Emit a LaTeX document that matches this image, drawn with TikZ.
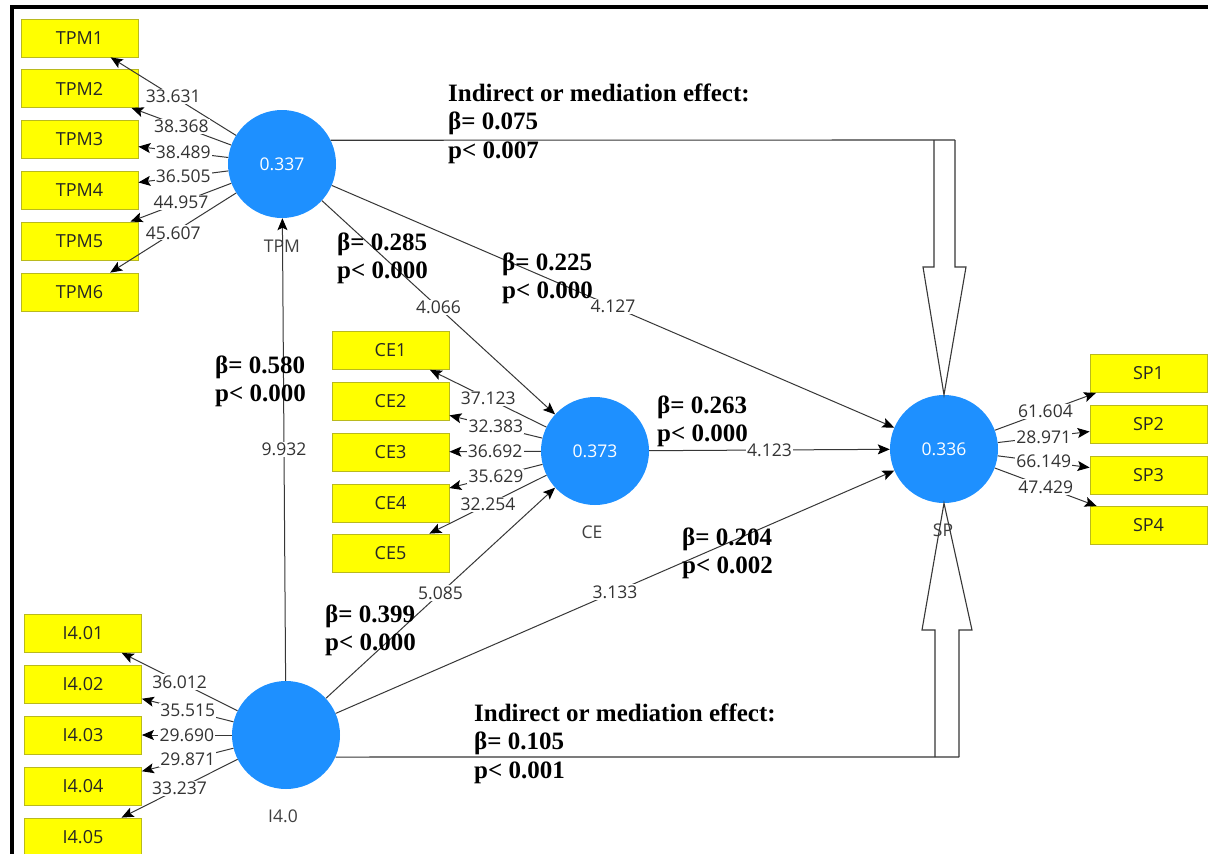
\documentclass[tikz,border=0pt]{standalone}
\usepackage{fontspec}
\setmainfont{Open Sans}
\newfontfamily\tnr{Liberation Serif}
\usetikzlibrary{arrows.meta}
\definecolor{lvblue}{HTML}{1E90FF}
\definecolor{indfill}{RGB}{255,255,0}
\definecolor{indline}{RGB}{185,185,30}
\definecolor{lncol}{RGB}{55,55,55}
\newcommand\plsblock[1]{\begin{tabular}[t]{@{}l@{}}#1\end{tabular}}
\begin{document}
\begin{tikzpicture}[x=1pt,y=-1pt,
  lat/.style={circle,fill=lvblue,minimum size=108pt,inner sep=0pt,text=white,font=\fontsize{17.5}{20}\selectfont},
  latname/.style={text=black!75,font=\fontsize{17.5}{20}\selectfont,inner sep=0pt},
  indbox/.style={rectangle,fill=indfill,draw=indline,line width=0.8pt,minimum width=117pt,minimum height=38pt,inner sep=0pt,text=black!85,font=\fontsize{18}{20}\selectfont},
  conn/.style={draw=lncol,line width=1pt,-{Stealth[length=12pt,width=10pt,inset=2.5pt,color=black]}},
  wt/.style={fill=white,inner sep=1.2pt,text=black!80,font=\fontsize{17.5}{20}\selectfont},
  hol/.style={draw=lncol,line width=1.1pt,line join=miter},
  bl/.style={font=\tnr\bfseries\fontsize{25}{28.5}\selectfont,anchor=base west,inner sep=0pt,text=black}
]
\useasboundingbox (0,0) rectangle (1208,854);
\fill[white] (0,0) rectangle (1208,854);
\draw[line width=3.5pt] (12,854) -- (12,7) -- (1208,7);

% latent variables
\node[lat] (tpm) at (282,164) {0.337};
\node[lat] (ce)  at (595,451) {0.373};
\node[lat] (sp)  at (944,449) {0.336};
\node[lat] (i40) at (286,735) {};
\node[latname] (tpmn) at (282,246) {TPM};
\node[latname] (cen)  at (592,532) {CE};
\node[latname] (spn)  at (943,530) {SP};
\node[latname] (i40n) at (283,816) {I4.0};

% indicators
\foreach \i/\y in {1/38,2/88.5,3/139.5,4/190,5/241,6/292}
  \node[indbox] (tpm\i) at (79.5,\y) {TPM\i};
\foreach \i/\y in {1/350.5,2/401,3/452,4/503,5/553}
  \node[indbox] (ce\i) at (390.5,\y) {CE\i};
\foreach \i/\y in {1/373.5,2/424.5,3/475,4/525.5}
  \node[indbox] (sp\i) at (1148.5,\y) {SP\i};
\foreach \i/\y in {1/633.5,2/684,3/735,4/786,5/837}
  \node[indbox] (i4\i) at (83,\y) {I4.0\i};

% outer loadings
\foreach \i/\v in {1/33.631,2/38.368,3/38.489,4/36.505,5/44.957,6/45.607}
  \draw[conn] (tpm) -- node[wt]{\v} (tpm\i);
\foreach \i/\v in {1/37.123,2/32.383,3/36.692,4/35.629,5/32.254}
  \draw[conn] (ce) -- node[wt]{\v} (ce\i);
\foreach \i/\v in {1/61.604,2/28.971,3/66.149,4/47.429}
  \draw[conn] (sp) -- node[wt]{\v} (sp\i);
\foreach \i/\v in {1/36.012,2/35.515,3/29.690,4/29.871,5/33.237}
  \draw[conn] (i40) -- node[wt]{\v} (i4\i);

% structural paths
\draw[conn] (i40) -- node[wt]{9.932} (tpm);
\draw[conn] (tpm) -- node[wt]{4.066} (ce);
\draw[conn] (tpm) -- node[wt]{4.127} (sp);
\draw[conn] (ce) -- node[wt]{4.123} (sp);
\draw[conn] (i40) -- node[wt]{5.085} (ce);
\draw[conn] (i40) -- node[wt]{3.133} (sp);

% mediation (hollow) arrows
\coordinate (ttr) at (955,140);
\coordinate (ttl) at (934,140);
\coordinate (bbr) at (959,757);
\coordinate (bbl) at (935,757);
\draw[hol] (tpm.26) -- (ttr);
\draw[hol] (ttl) -- (934,267) -- (923,267) -- (sp.north) -- (966,267) -- (955,267) -- (ttr);
\draw[hol] (i40.-24) -- (bbr);
\draw[hol] (bbl) -- (935,630) -- (922,630) -- (sp.south) -- (972,630) -- (959,630) -- (bbr);

% coefficient labels
\node[bl] (ind1) at (448,101) {\plsblock{Indirect or mediation effect:\\β= 0.075\\p< 0.007}};
\node[bl] (b285) at (337,250) {\plsblock{β= 0.285\\p< 0.000}};
\node[bl] (b225) at (502,270) {\plsblock{β= 0.225\\p< 0.000}};
\node[bl] (b580) at (215,373) {\plsblock{β= 0.580\\p< 0.000}};
\node[bl] (b263) at (657,413) {\plsblock{β= 0.263\\p< 0.000}};
\node[bl] (b204) at (682,545) {\plsblock{β= 0.204\\p< 0.002}};
\node[bl] (b399) at (325,622) {\plsblock{β= 0.399\\p< 0.000}};
\node[bl] (ind2) at (474,721) {\plsblock{Indirect or mediation effect:\\β= 0.105\\p< 0.001}};
\end{tikzpicture}
\end{document}
